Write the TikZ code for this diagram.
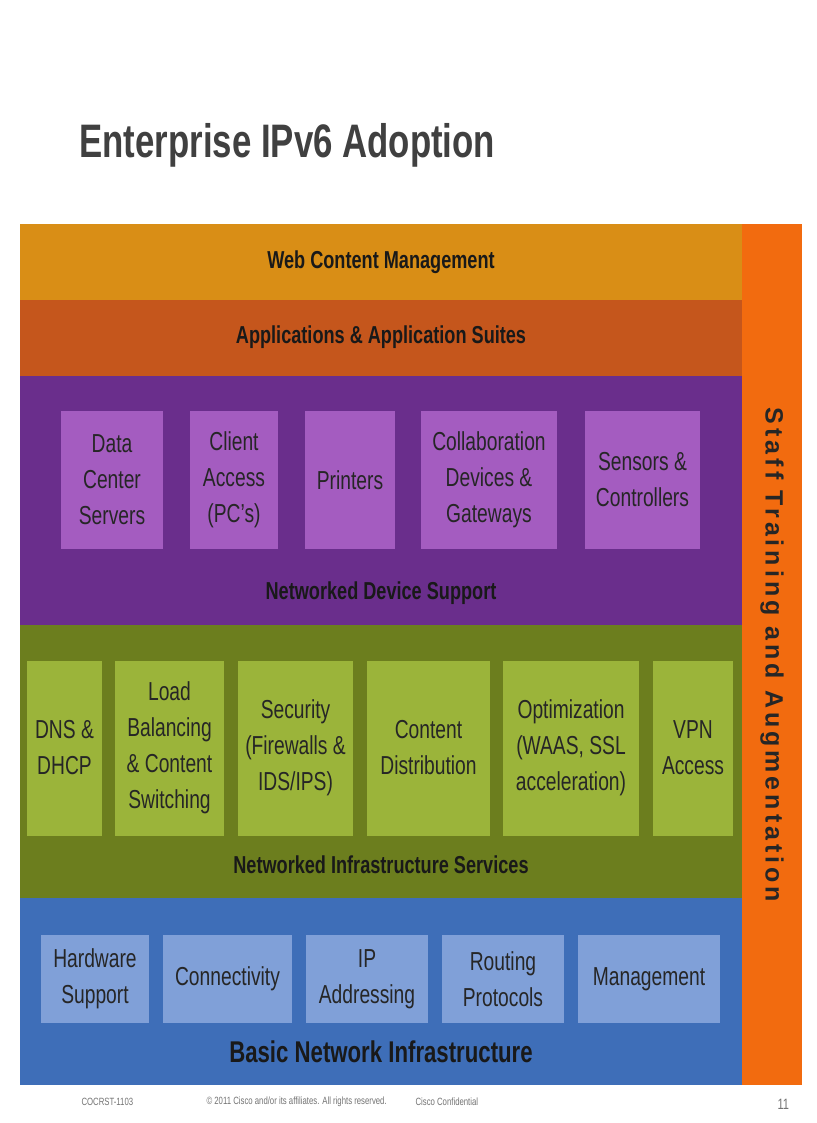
\documentclass[tikz,border=0pt]{standalone}
\usepackage{fontspec}
\setmainfont{Liberation Sans}[FakeStretch=0.74]
\newfontfamily\wide{Liberation Sans}
\begin{document}
\begin{tikzpicture}[x=1pt,y=-1pt,
  band/.style={draw=none,anchor=north west,inner sep=0,outer sep=0},
  cell/.style={draw=none,inner sep=0,align=center,font=\fontsize{26}{36}\selectfont,text=black!85},
  lbl/.style={font=\bfseries\fontsize{24.5}{24}\selectfont,text=black!90}]
\useasboundingbox (0,0) rectangle (816,1123);
\fill[white] (0,0) rectangle (816,1123);
\node[anchor=west,font=\bfseries\fontsize{47}{48}\selectfont,text=black!75] (title) at (76,145) {Enterprise IPv6 Adoption};
% bands
\fill[fill={rgb,255:red,217;green,142;blue,22}] (20,224) rectangle (742,300);
\fill[fill={rgb,255:red,197;green,86;blue,28}] (20,300) rectangle (742,376);
\fill[fill={rgb,255:red,106;green,46;blue,140}] (20,376) rectangle (742,625);
\fill[fill={rgb,255:red,108;green,126;blue,30}] (20,625) rectangle (742,898);
\fill[fill={rgb,255:red,62;green,110;blue,184}] (20,898) rectangle (742,1085);
\fill[fill={rgb,255:red,242;green,107;blue,15}] (742,224) rectangle (802,1085);
\node[lbl] (l1) at (381,262) {Web Content Management};
\node[lbl] (l2) at (381,337) {Applications \& Application Suites};
\node[lbl] (l3) at (381,593) {Networked Device Support};
\node[lbl] (l4) at (381,865) {Networked Infrastructure Services};
\node[lbl,font=\bfseries\fontsize{30}{30}\selectfont] (l5) at (381,1052) {Basic Network Infrastructure};
\node[rotate=-90,font=\wide\bfseries\fontsize{25}{26}\selectfont,text=black!85] (st) at (772,655) {\addfontfeature{LetterSpace=16}Staff Training and Augmentation};
% purple cells
\tikzset{pc/.style={cell,fill={rgb,255:red,164;green,92;blue,192}}}
\foreach \a/\b/\t [count=\i] in {61/163/{Data\\Center\\Servers},190/278/{Client\\Access\\(PC's)},305/395/{Printers},421/557/{Collaboration\\Devices \&\\Gateways},585/700/{Sensors \&\\Controllers}}
  \node[pc,minimum width={\b-\a},minimum height=138] (p\i) at ({(\a+\b)/2},480) {\t};
\tikzset{gc/.style={cell,fill={rgb,255:red,155;green,180;blue,58}}}
\foreach \a/\b/\t [count=\i] in {27/102/{DNS \&\\DHCP},115/224/{Load\\Balancing\\\& Content\\Switching},238/353/{Security\\(Firewalls \&\\IDS/IPS)},367/490/{Content\\Distribution},503/639/{Optimization\\(WAAS, SSL\\acceleration)},653/733/{VPN\\Access}}
  \node[gc,minimum width={\b-\a},minimum height=175] (g\i) at ({(\a+\b)/2},748) {\t};
\tikzset{bc/.style={cell,fill={rgb,255:red,128;green,160;blue,216}}}
\foreach \a/\b/\t [count=\i] in {41/149/{Hardware\\Support},163/292/{Connectivity},306/428/{IP\\Addressing},442/564/{Routing\\Protocols},578/720/{Management}}
  \node[bc,minimum width={\b-\a},minimum height=88] (b\i) at ({(\a+\b)/2},979) {\t};
% footer
\tikzset{ft/.style={font=\fontsize{10.5}{11}\selectfont,text=black!55,anchor=west}}
\node[ft] (f1) at (78,1102) {COCRST-1103};
\node[ft] (f2) at (203,1102) {\textcopyright\ 2011 Cisco and/or its affiliates. All rights reserved.};
\node[ft] (f3) at (412,1102) {Cisco Confidential};
\node[ft,font=\fontsize{15}{15}\selectfont] (f4) at (774,1104) {11};
\end{tikzpicture}
\end{document}
